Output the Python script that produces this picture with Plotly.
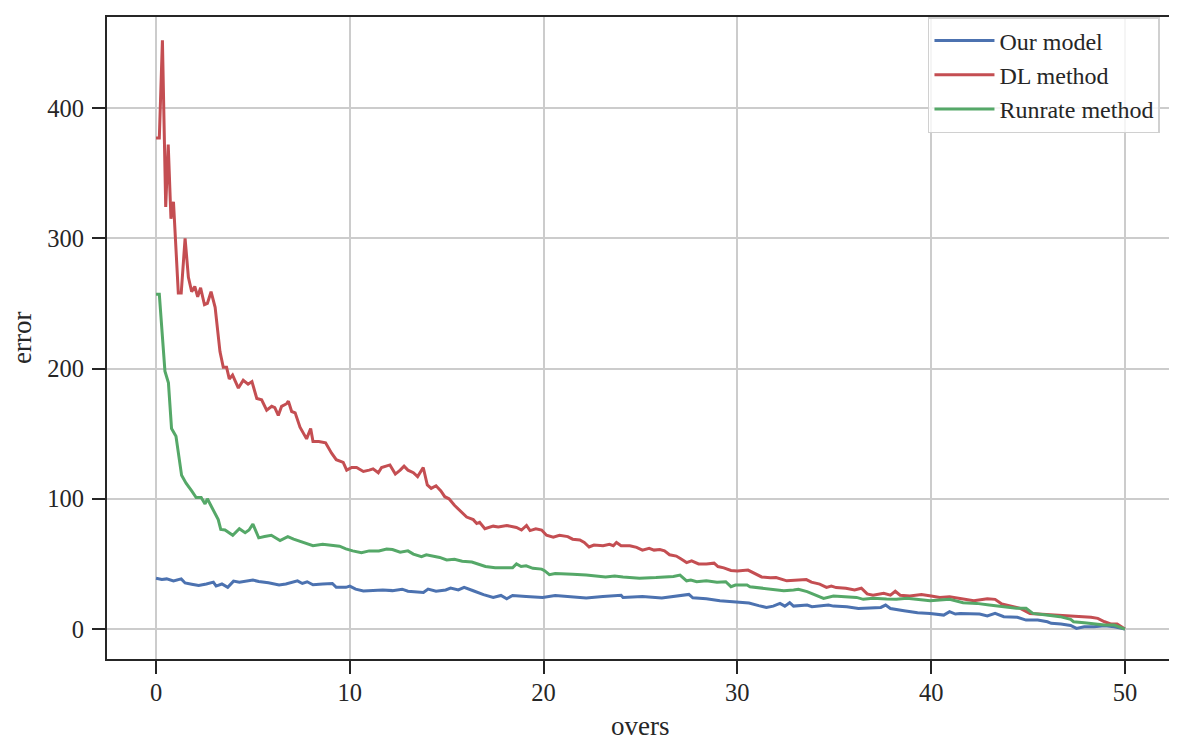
import plotly.graph_objects as go

# ---- data ----
model_overs = [0, 0.3, 0.55, 0.9, 1.3, 1.5, 1.84, 2.2, 2.6, 2.96,
               3.1, 3.4, 3.7, 4.0, 4.3, 4.65, 5.0, 5.3, 5.8, 6.35,
               6.7, 7.3, 7.55, 7.8, 8.1, 8.6, 9.1, 9.3, 9.8, 10.0,
               10.3, 10.7, 11.2, 11.7, 12.2, 12.7, 13.0, 13.4, 13.8, 14.04,
               14.45, 14.95, 15.2, 15.6, 15.9, 16.37, 16.9, 17.4, 17.8, 18.1,
               18.4, 19.1, 19.95, 20.6, 21.3, 22.2, 23.06, 24.0, 24.1, 25.1,
               26.1, 27.3, 27.5, 27.7, 28.4, 29.1, 29.95, 30.6, 31.1, 31.5,
               31.85, 32.2, 32.45, 32.7, 32.9, 33.6, 33.85, 34.7, 34.96, 35.65,
               36.25, 37.0, 37.4, 37.65, 37.9, 38.6, 39.3, 39.95, 40.65, 40.95,
               41.25, 41.5, 42.0, 42.5, 42.9, 43.3, 43.75, 44.45, 44.9, 45.5,
               46.0, 46.2, 46.7, 47.2, 47.5, 47.9, 48.4, 48.95, 49.45, 50]
model_error = [39, 38, 38.5, 37, 38.5, 35.4, 34.4, 33.4, 34.6, 36,
               33, 34.6, 32, 36.8, 36, 36.8, 37.6, 36.5, 35.5, 33.8,
               34.6, 37, 35, 36.3, 34, 34.5, 35, 32, 32, 33,
               30.6, 29.3, 29.8, 30, 29.5, 30.6, 29, 28.5, 28, 30.7,
               29, 30, 31.5, 30, 32, 29.4, 26.4, 24.3, 25.8, 23.3,
               25.8, 25, 24.3, 25.8, 25, 23.8, 25, 26, 24.3, 25,
               23.8, 26, 26.6, 24, 23.3, 21.8, 20.7, 20, 18, 16.6,
               17.6, 19.7, 17.6, 20.2, 17.6, 18.4, 17.1, 18.4, 17.6, 17.1,
               15.8, 16.3, 16.6, 18.4, 15.8, 14.1, 12.5, 12, 10.7, 13.3,
               11.5, 12, 11.5, 11.5, 10, 12, 9.5, 9, 6.9, 6.9,
               5.6, 4.4, 3.8, 2.8, 0.5, 1.8, 1.8, 2.6, 1.8, 0]

dl_overs = [0, 0.17, 0.33, 0.5, 0.63, 0.77, 0.9, 1.15, 1.3, 1.5,
            1.67, 1.84, 2.0, 2.15, 2.3, 2.5, 2.65, 2.84, 3.05, 3.3,
            3.47, 3.64, 3.78, 3.95, 4.25, 4.5, 4.75, 4.95, 5.2, 5.45,
            5.71, 5.97, 6.13, 6.31, 6.48, 6.74, 6.83, 7.0, 7.18, 7.43,
            7.77, 7.98, 8.1, 8.4, 8.75, 9.06, 9.3, 9.55, 9.66, 9.84,
            10.1, 10.35, 10.7, 11.0, 11.2, 11.47, 11.64, 12.07, 12.35, 12.6,
            12.8, 13.0, 13.28, 13.5, 13.79, 14.0, 14.2, 14.45, 14.7, 14.9,
            15.12, 15.4, 15.6, 15.8, 16.03, 16.37, 16.55, 16.7, 16.97, 17.4,
            17.66, 18.1, 18.6, 18.86, 19.12, 19.3, 19.6, 19.9, 20.15, 20.5,
            20.82, 21.25, 21.5, 21.87, 22.1, 22.35, 22.6, 23.07, 23.4, 23.6,
            23.76, 24.0, 24.45, 24.8, 25.1, 25.45, 25.7, 26.0, 26.24, 26.5,
            26.85, 27.1, 27.38, 27.64, 28.0, 28.4, 28.8, 29.0, 29.3, 29.67,
            30.0, 30.55, 30.9, 31.25, 31.7, 32.0, 32.55, 32.96, 33.56, 33.82,
            34.25, 34.6, 34.85, 35.1, 35.6, 36.05, 36.4, 36.7, 37.0, 37.55,
            37.9, 38.15, 38.4, 38.9, 39.5, 40.0, 40.45, 40.95, 41.65, 42.2,
            42.9, 43.3, 43.65, 44.1, 44.6, 45.1, 45.6, 46.15, 46.7, 47.2,
            47.55, 47.9, 48.25, 48.6, 48.95, 49.3, 49.6, 50]
dl_error = [377, 377, 452, 324, 372, 315, 328, 258, 258, 300,
            270, 259, 263, 255, 262, 249, 250, 259, 247, 213,
            201, 201, 192, 195, 185, 191, 188, 190, 177, 176,
            168, 171, 170, 164, 171, 173, 175, 167, 166, 155,
            146, 154, 144, 144, 143, 135, 130, 129, 128, 122,
            124, 124, 121, 122, 123, 120, 124, 126, 119, 122,
            125, 122, 120, 117, 124, 110.6, 108, 110, 106, 101.6,
            100, 95, 92, 89, 86, 84, 81, 82, 77, 79,
            78.4, 79.5, 78, 76, 79.5, 75.6, 77, 76, 72, 70.6,
            72, 71, 69, 68.4, 66.5, 63, 64.5, 64, 65, 64,
            66.5, 64, 64, 62.7, 60.6, 62, 60.6, 61, 60, 57,
            56, 53.7, 51, 52.4, 50, 50, 50.6, 48, 47, 45,
            44.6, 45.3, 42.7, 40, 39.4, 39.6, 37, 37.6, 38, 36,
            34.5, 32, 33, 31.8, 31.3, 30, 31.3, 27, 26, 27.4,
            26, 29, 26, 25.4, 26.6, 25.4, 24.3, 24.8, 22.8, 21.7,
            23.3, 22.8, 19.2, 17.9, 15.9, 12, 11.5, 10.7, 10.7, 10,
            9.5, 9.5, 9, 8.2, 5.6, 3.8, 3.8, 0]

runrate_overs = [0, 0.17, 0.46, 0.64, 0.8, 1.03, 1.32, 1.55, 1.84, 2.07,
                 2.33, 2.53, 2.65, 2.96, 3.21, 3.34, 3.56, 3.96, 4.3, 4.6,
                 4.8, 5.0, 5.3, 5.6, 5.95, 6.4, 6.8, 7.1, 7.43, 8.1,
                 8.6, 9.1, 9.47, 9.8, 10.15, 10.6, 11.0, 11.5, 11.9, 12.2,
                 12.6, 13.0, 13.28, 13.7, 13.95, 14.64, 15.0, 15.4, 15.8, 16.3,
                 17.0, 17.5, 18.4, 18.6, 18.84, 19.1, 19.45, 19.9, 20.05, 20.3,
                 20.6, 21.5, 22.2, 23.2, 23.67, 24.1, 24.95, 25.8, 26.7, 27.04,
                 27.38, 27.6, 27.9, 28.4, 28.95, 29.4, 29.67, 29.9, 30.5, 30.65,
                 31.35, 31.85, 32.4, 32.9, 33.15, 33.6, 34.0, 34.45, 34.96, 35.65,
                 36.15, 36.5, 37.0, 37.7, 38.2, 38.75, 39.4, 39.95, 40.45, 40.95,
                 41.65, 42.35, 43.0, 43.7, 44.4, 44.9, 45.25, 45.95, 46.65, 47.2,
                 47.35, 47.9, 48.4, 48.95, 49.45, 50]
runrate_error = [257, 257, 198, 189, 154, 148, 118, 112, 106, 101,
                 101, 96, 100, 91, 84, 76.5, 76, 72, 77, 74,
                 76, 80.6, 70, 71, 72, 68, 71, 69, 67.4, 64,
                 65, 64, 63.6, 61.6, 60, 58.6, 60, 60, 61.5, 61,
                 59, 60, 57.5, 55.5, 57, 55, 53, 53.5, 52, 51.4,
                 48, 47, 47, 50, 48, 48.6, 46.6, 46, 44.8, 41.7,
                 42.7, 42, 41.5, 40, 40.7, 40, 39, 39.5, 40.4, 41.4,
                 37, 37.6, 36.3, 37, 36, 36.3, 32.5, 33.8, 33.8, 32.5,
                 31.2, 30.7, 29.4, 30, 30.5, 28.7, 26, 23.5, 25.3, 24.8,
                 24.3, 22.8, 23.6, 23, 22.8, 23.6, 22.3, 21.7, 22.3, 22.8,
                 20.2, 19.7, 18.4, 17.1, 15.9, 15.9, 12, 10.7, 9.5, 7.4,
                 5.6, 4.9, 3.8, 3.1, 3.1, 0]

series_names = ["Our model", "DL method", "Runrate method"]
series_colors = ["#4C72B0", "#C44E52", "#55A868"]
x_ticks = [0, 10, 20, 30, 40, 50]
y_ticks = [0, 100, 200, 300, 400]
x_title = "overs"
y_title = "error"

assert len(model_overs) == len(model_error), (len(model_overs), len(model_error))
assert len(dl_overs) == len(dl_error), (len(dl_overs), len(dl_error))
assert len(runrate_overs) == len(runrate_error), (len(runrate_overs), len(runrate_error))

FONT = "Liberation Serif, Times New Roman, serif"
TXT = "#262626"
fig = go.Figure()
for xs, ys, name, col in zip([model_overs, dl_overs, runrate_overs],
                             [model_error, dl_error, runrate_error],
                             series_names, series_colors):
    fig.add_trace(go.Scatter(x=xs, y=ys, mode="lines", name=name,
                             line=dict(color=col, width=3.0)))

axis_common = dict(
    showline=True, linecolor=TXT, linewidth=2, mirror=True,
    ticks="outside", ticklen=13, tickwidth=1.8, tickcolor=TXT,
    showgrid=True, gridcolor="#cccccc", gridwidth=1.6, zeroline=False,
    tickfont=dict(family=FONT, size=24.5, color=TXT),
    automargin=False,
)
# page body has an 8px margin, so the figure is drawn 8px smaller and offset
fig.update_layout(
    width=1169, height=735,
    margin=dict(l=99, r=5, t=9, b=84),
    paper_bgcolor="white", plot_bgcolor="white",
    font=dict(family=FONT, color=TXT),
    xaxis=dict(range=[-2.53, 52.43], tickvals=x_ticks, ticklabelstandoff=-2,
               **axis_common),
    yaxis=dict(range=[-23.0, 469.9], tickvals=y_ticks, ticklabelstandoff=3,
               **axis_common),
    legend=dict(x=0.9887, y=1.0, xanchor="right", yanchor="top",
                bgcolor="rgba(255,255,255,0.8)", bordercolor="#d0d0d0", borderwidth=1.5,
                font=dict(family=FONT, size=24, color=TXT),
                tracegroupgap=0, itemwidth=60),
    showlegend=True,
    annotations=[
        dict(text=x_title, xref="paper", yref="paper", x=0.5, y=-0.1044,
             xanchor="center", yanchor="middle", showarrow=False,
             font=dict(family=FONT, size=27, color=TXT)),
        dict(text=y_title, xref="paper", yref="paper", x=-0.0798, y=0.5,
             xanchor="center", yanchor="middle", showarrow=False, textangle=-90,
             font=dict(family=FONT, size=27, color=TXT)),
    ],
)
fig.write_html("out.html")
